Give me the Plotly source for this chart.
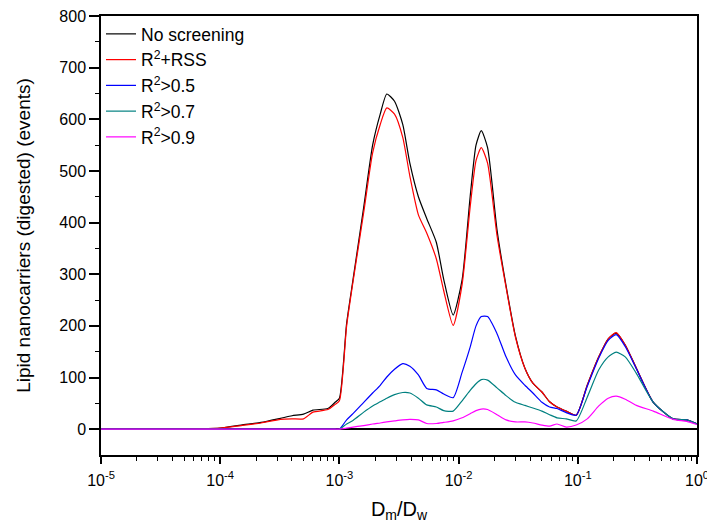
import plotly.graph_objects as go

# Shared x grid (D_m / D_w)
x_vals = [1e-5, 3e-5, 1e-4, 1.5e-4, 2.2e-4, 3.2e-4, 4e-4, 5e-4, 6e-4, 8e-4, 9.2e-4,
          1.0e-3, 1.15e-3, 1.3e-3, 1.6e-3, 1.9e-3, 2.2e-3, 2.5e-3, 2.9e-3, 3.4e-3, 3.9e-3,
          4.6e-3, 5.4e-3, 6.5e-3, 7.5e-3, 9e-3, 1.07e-2, 1.25e-2, 1.4e-2, 1.55e-2, 1.75e-2,
          2.1e-2, 2.5e-2, 3e-2, 3.6e-2, 4.2e-2, 5e-2, 5.8e-2, 6.7e-2, 8e-2, 9.7e-2,
          1.2e-1, 1.5e-1, 1.8e-1, 2.1e-1, 2.5e-1, 3.1e-1, 4.3e-1, 6.3e-1, 8.2e-1, 1.0]

no_screening = [0, 0, 2, 8, 13, 21, 26, 29, 37, 40, 52,
                60, 205, 289, 430, 550, 610, 649, 635, 590, 515,
                450, 408, 362, 290, 221, 289, 450, 550, 578, 545,
                386, 278, 180, 118, 89, 72, 53, 43, 35, 27,
                85, 140, 175, 186, 163, 118, 52, 20, 18, 10]

r2_rss = [0, 0, 2, 7, 12, 19, 20, 20, 33, 38, 48,
          55, 200, 285, 420, 535, 590, 622, 610, 565, 490,
          415, 380, 330, 268, 201, 280, 430, 520, 545, 515,
          375, 275, 178, 118, 89, 72, 53, 43, 35, 27,
          85, 140, 175, 187, 163, 118, 52, 20, 18, 10]

r2_05 = [0, 0, 0, 0, 0, 0, 0, 0, 0, 0, 0,
         0, 18, 30, 52, 70, 85, 101, 116, 127, 122,
         105, 79, 76, 68, 61, 110, 159, 200, 218, 218,
         185, 140, 105, 85, 70, 52, 43, 40, 32, 27,
         83, 138, 172, 183, 160, 117, 52, 20, 18, 10]

r2_07 = [0, 0, 0, 0, 0, 0, 0, 0, 0, 0, 0,
         0, 10, 17, 33, 45, 53, 60, 67, 71, 70,
         60, 47, 43, 36, 35, 55, 75, 88, 96, 95,
         80, 65, 52, 46, 41, 35, 28, 22, 20, 16,
         62, 115, 140, 149, 140, 108, 52, 20, 18, 10]

r2_09 = [0, 0, 0, 0, 0, 0, 0, 0, 0, 0, 0,
         0, 2, 4, 7, 10, 12, 14, 16, 18, 19,
         18, 11, 11, 13, 16, 22, 30, 36, 39, 38,
         28, 18, 14, 14, 12, 8, 6, 10, 4, 8,
         20, 45, 60, 64, 58, 46, 35, 19, 15, 9]

series_names = ["No screening", "R<sup>2</sup>+RSS", "R<sup>2</sup>>0.5",
                "R<sup>2</sup>>0.7", "R<sup>2</sup>>0.9"]
series_values = [no_screening, r2_rss, r2_05, r2_07, r2_09]
series_colors = ["#000000", "#ff0000", "#0000ff", "#008080", "#ff00ff"]

x_major = [1e-5, 1e-4, 1e-3, 1e-2, 1e-1, 1]
x_major_text = ["10<sup>-5</sup>", "10<sup>-4</sup>", "10<sup>-3</sup>",
                "10<sup>-2</sup>", "10<sup>-1</sup>", "10<sup>0</sup>"]
y_major = [0, 100, 200, 300, 400, 500, 600, 700, 800]
y_minor = [50, 150, 250, 350, 450, 550, 650, 750]

x_minor = [m * 10 ** e for e in range(-5, 0) for m in range(2, 10)]

fig = go.Figure()
for name, vals, col in zip(series_names, series_values, series_colors):
    fig.add_trace(go.Scatter(x=x_vals, y=vals, name=name, mode="lines",
                             line=dict(color=col, width=1.2, shape="spline", smoothing=0.6)))

fig.update_layout(
    width=707, height=530,
    margin=dict(l=101, r=10, t=16, b=75, autoexpand=False),
    plot_bgcolor="white", paper_bgcolor="white",
    font=dict(family="Arial, Liberation Sans, sans-serif", color="black", size=16),
    showlegend=True,
    legend=dict(x=0.0, y=1.0, xanchor="left", yanchor="top",
                bgcolor="rgba(0,0,0,0)", font=dict(size=17.5),
                tracegroupgap=0),
)

fig.update_xaxes(
    type="log", range=[-5, 0], automargin=False,
    tickmode="array", tickvals=x_major, ticktext=x_major_text,
    ticks="outside", ticklen=7, tickwidth=1.5, tickcolor="black",
    minor=dict(tickvals=x_minor, ticks="outside", ticklen=4, tickwidth=1.2, tickcolor="black"),
    showline=True, linecolor="black", linewidth=1.5, mirror=True,
    showgrid=False, zeroline=False,
    tickfont=dict(size=16), ticklabeloverflow="allow", ticklabelstandoff=3,
    title=dict(text="D<sub>m</sub>/D<sub>w</sub>", font=dict(size=20), standoff=14),
)

fig.update_yaxes(
    range=[-50, 800], automargin=False,
    tickmode="array", tickvals=y_major,
    ticks="outside", ticklen=10, tickwidth=1.5, tickcolor="black",
    minor=dict(tickvals=y_minor, ticks="outside", ticklen=4, tickwidth=1.2, tickcolor="black"),
    showline=True, linecolor="black", linewidth=1.5, mirror=True,
    showgrid=False, zeroline=True, zerolinecolor="black", zerolinewidth=2,
    tickfont=dict(size=16), ticklabeloverflow="allow",
    title=dict(text="Lipid nanocarriers (digested) (events)", font=dict(size=19), standoff=24),
)

fig.write_html("out.html", config={"displayModeBar": False},
               post_script="document.body.style.margin='0px';")
